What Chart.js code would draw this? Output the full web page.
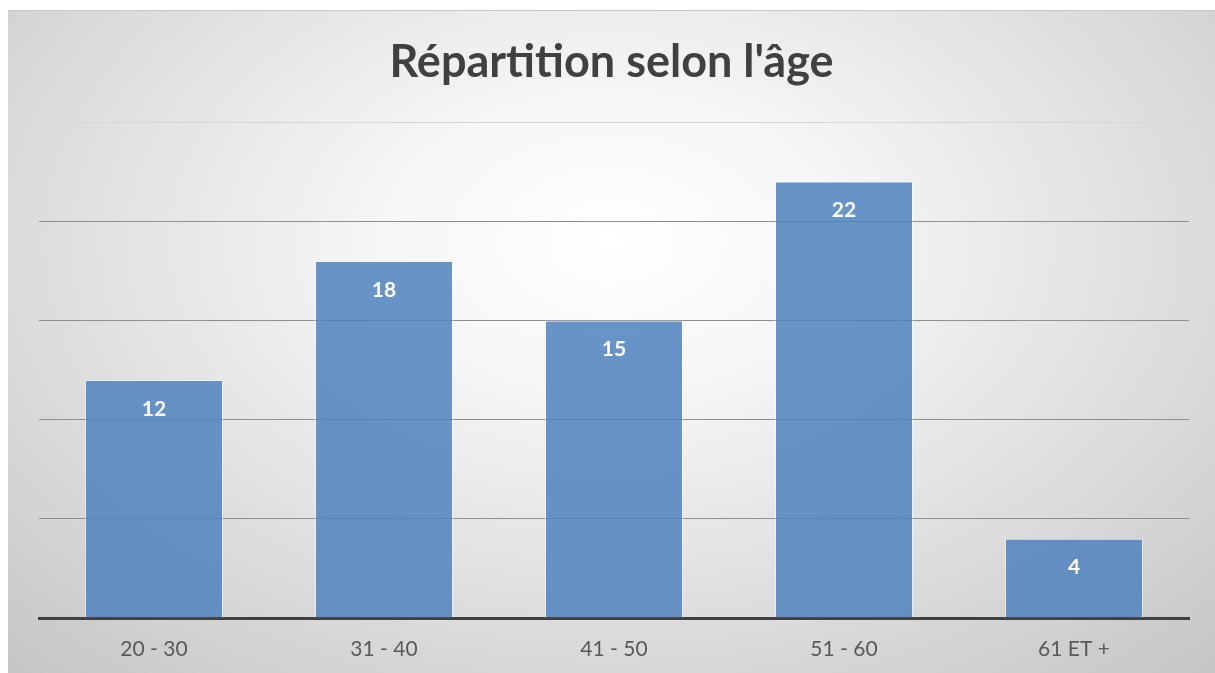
<!DOCTYPE html>
<html>
<head>
<meta charset="utf-8">
<script src="https://cdn.jsdelivr.net/npm/chart.js@4/dist/chart.umd.min.js"></script>
<style>
  html, body { margin: 0; padding: 0; background: #ffffff; }
  #frame {
    position: absolute; left: 8px; top: 10px; width: 1207px; height: 663px;
    background: radial-gradient(ellipse 75% 90% at 50% 35%, #ffffff 0%, #f6f6f6 25%, #dcdcdc 65%, #c4c4c4 100%);
    border-top: 1px solid #c8c8c8;
    box-sizing: border-box;
  }
  #chart { display: block; }
</style>
</head>
<body>
<div id="frame"><canvas id="chart" width="1207" height="662"></canvas></div>
<script>
// Age groups and headcount
const ageGroups = ['20 - 30', '31 - 40', '41 - 50', '51 - 60', '61 ET +'];
const headcount = [12, 18, 15, 22, 4];
const chartTitle = "Répartition selon l'âge";

// Title drawn by hand so the plot area keeps a fixed top
const titlePlugin = {
    id: 'titlePlugin',
    afterDraw(chart) {
        const ctx = chart.ctx;
        ctx.save();
        ctx.fillStyle = '#404040';
        ctx.font = 'bold 45px Lato';
        ctx.textAlign = 'center';
        ctx.textBaseline = 'middle';
        ctx.fillText(chartTitle, chart.width / 2, 51);
        ctx.restore();
    }
};

// White value labels inside the top of each bar
const valueLabels = {
    id: 'valueLabels',
    afterDatasetsDraw(chart) {
        const ctx = chart.ctx;
        const meta = chart.getDatasetMeta(0);
        ctx.save();
        ctx.fillStyle = '#ffffff';
        ctx.font = 'bold 21px Lato';
        ctx.textAlign = 'center';
        ctx.textBaseline = 'middle';
        meta.data.forEach((bar, i) => {
            ctx.fillText(headcount[i], bar.x, bar.y + 29);
        });
        ctx.restore();
    }
};

new Chart(document.getElementById('chart'), {
    type: 'bar',
    data: {
        labels: ageGroups,
        datasets: [{
            data: headcount,
            backgroundColor: 'rgba(79, 129, 189, 0.85)',
            borderColor: 'rgba(255, 255, 255, 0.45)',
            borderWidth: 1,
            borderSkipped: 'bottom',
            categoryPercentage: 0.6,
            barPercentage: 1
        }]
    },
    options: {
        responsive: false,
        animation: false,
        layout: { padding: { left: 31, right: 26, top: 111, bottom: 0 } },
        plugins: {
            legend: { display: false },
            title: { display: false },
            tooltip: { enabled: false }
        },
        scales: {
            x: {
                grid: { display: false },
                border: { display: true, color: '#404040', width: 3 },
                ticks: {
                    color: '#595959',
                    font: { family: 'Lato', size: 21 },
                    padding: 11
                },
                afterFit(scale) { scale.height = 55; }
            },
            y: {
                min: 0,
                max: 25,
                ticks: { display: false, stepSize: 5 },
                border: { display: false },
                grid: {
                    drawTicks: false,
                    color(ctx) {
                        if (ctx.tick.value === 0) return 'rgba(0,0,0,0)';
                        if (ctx.tick.value === 25) return '#d6d6d6';
                        return '#8f8f8f';
                    },
                    lineWidth: 1
                },
                afterFit(scale) { scale.width = 0; }
            }
        }
    },
    plugins: [titlePlugin, valueLabels]
});
</script>
</body>
</html>
